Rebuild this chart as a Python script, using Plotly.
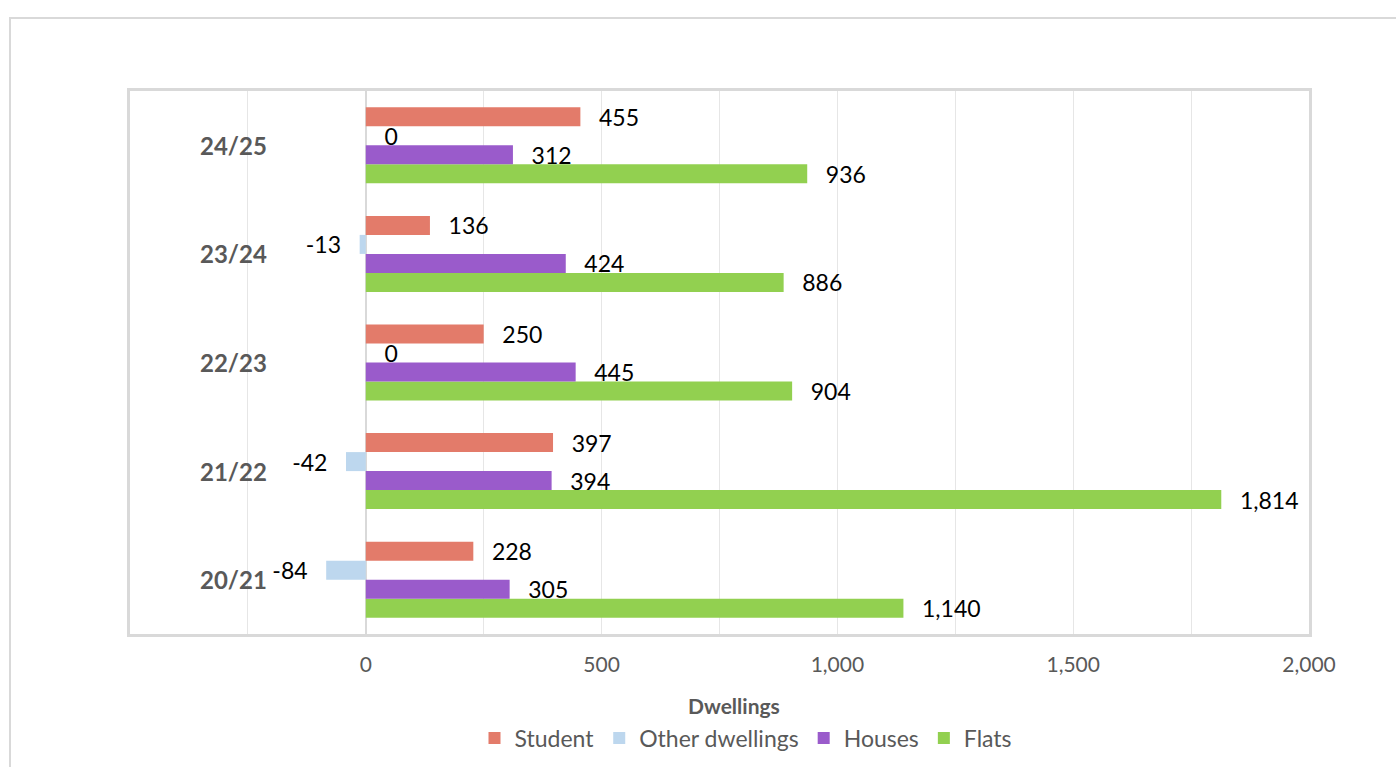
import plotly.graph_objects as go

categories = ["20/21", "21/22", "22/23", "23/24", "24/25"]
student = [228, 397, 250, 136, 455]
other = [-84, -42, 0, -13, 0]
houses = [305, 394, 445, 424, 312]
flats = [1140, 1814, 904, 886, 936]

series = [
    ("Flats", flats, "#92D050"),
    ("Houses", houses, "#9A5BCB"),
    ("Other dwellings", other, "#BDD7EE"),
    ("Student", student, "#E37B6A"),
]

PAD = "\u00a0\u00a0\u2006"

def labels(vals):
    out = []
    for v in vals:
        s = f"{v:,}"
        out.append(s + PAD if v < 0 else PAD + s)
    return out

fig = go.Figure()
for name, vals, color in series:
    fig.add_trace(go.Bar(
        y=categories, x=vals, name=name, orientation="h",
        marker=dict(color=color, line=dict(width=0)),
        text=labels(vals), textposition="outside", constraintext="none",
        cliponaxis=False,
        textfont=dict(family="Lato", size=23, color="#000000"),
        hoverinfo="x+name",
    ))

L, R, T, B = 130, 1309, 91, 634
W, H = 1396, 767
pw, ph = R - L, B - T

def px(x):
    return (x - L) / pw

def py(y):
    return (B - y) / ph

annotations = []
for c in categories:
    annotations.append(dict(
        x=px(269), xref="paper", y=c, yref="y", text=f"<b>{c}</b>",
        showarrow=False, xanchor="right", yanchor="middle",
        font=dict(family="Lato", size=24, color="#595959"),
    ))
annotations.append(dict(
    x=px(734), xref="paper", y=py(705), yref="paper", text="<b>Dwellings</b>",
    showarrow=False, xanchor="center", yanchor="middle",
    font=dict(family="Lato", size=21, color="#595959"),
))

fig.update_layout(
    width=W, height=H,
    margin=dict(l=L, r=W - R, t=T, b=H - B, pad=0, autoexpand=False),
    paper_bgcolor="white", plot_bgcolor="white",
    barmode="group", bargap=0.3, bargroupgap=0,
    font=dict(family="Lato", color="#595959"),
    showlegend=True,
    legend=dict(
        orientation="h", traceorder="reversed",
        x=px(746), xanchor="center", y=py(738), yanchor="middle",
        font=dict(family="Lato", size=23, color="#595959"),
        itemwidth=30, itemsizing="constant",
    ),
    annotations=annotations,
    shapes=[dict(
        type="rect", xref="paper", yref="paper",
        x0=px(10), x1=px(1420), y0=py(800), y1=py(18),
        line=dict(color="#d9d9d9", width=2), fillcolor="rgba(0,0,0,0)",
        layer="below",
    )],
)

fig.update_xaxes(
    range=[-500, 2000],
    tickvals=[0, 500, 1000, 1500, 2000],
    ticktext=["0", "500", "1,000", "1,500", "2,000"],
    tickfont=dict(family="Lato", size=21, color="#595959"),
    ticks="", ticklabelstandoff=10,
    showgrid=False,
    minor=dict(tickvals=[-250, 0, 250, 500, 750, 1000, 1250, 1500, 1750],
               showgrid=True, gridcolor="#e6e6e6", gridwidth=1),
    zeroline=True, zerolinecolor="#d9d9d9", zerolinewidth=2,
    showline=True, mirror=True, linecolor="#d9d9d9", linewidth=3,
)
fig.update_yaxes(
    type="category", categoryorder="array", categoryarray=categories,
    showticklabels=False, showgrid=False, zeroline=False,
    showline=True, mirror=True, linecolor="#d9d9d9", linewidth=3,
)

fig.write_html("out.html")
